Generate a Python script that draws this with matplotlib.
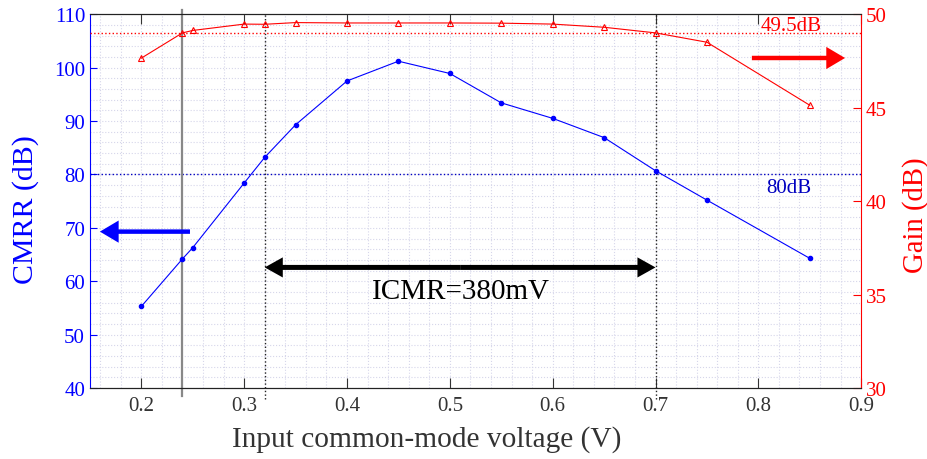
import numpy as np
import matplotlib
matplotlib.use('Agg')
import matplotlib.pyplot as plt
from matplotlib.ticker import MultipleLocator

plt.rcParams['font.family'] = ['Liberation Serif', 'DejaVu Serif']

# data
vin = [0.2, 0.24, 0.25, 0.3, 0.32, 0.35, 0.4, 0.45, 0.5, 0.55, 0.6, 0.65, 0.7, 0.75, 0.85]
cmrr = [55.3, 64.2, 66.3, 78.4, 83.2, 89.3, 97.5, 101.2, 98.9, 93.4, 90.5, 86.9, 80.7, 75.2, 64.3]
gain = [47.65, 49.0, 49.13, 49.47, 49.46, 49.55, 49.53, 49.53, 49.53, 49.52, 49.47, 49.3, 49.0, 48.5, 45.13]
cmrr_ref = 80
gain_ref = 49.0
marks = [0.24, 0.32, 0.7]

blue = '#0000ff'
red = '#ff0000'

fig = plt.figure(figsize=(9.27, 4.6), dpi=100)
ax = fig.add_axes([0.097, 0.154, 0.832, 0.813])
ax2 = ax.twinx()

ax.set_xlim(0.15, 0.9)
ax.set_ylim(40, 110)
ax2.set_ylim(30, 50)

# grid
ax.xaxis.set_major_locator(MultipleLocator(0.1))
ax.xaxis.set_minor_locator(MultipleLocator(0.02))
ax.yaxis.set_major_locator(MultipleLocator(10))
ax.yaxis.set_minor_locator(MultipleLocator(2))
ax2.yaxis.set_major_locator(MultipleLocator(5))
ax.grid(True, which='both', color='#d6d6ea', linestyle=':', linewidth=0.8)
ax.set_axisbelow(True)

# reference lines
ax.axhline(cmrr_ref, color='#0000c0', linestyle=':', linewidth=1.0)
ax2.axhline(gain_ref, color=red, linestyle=':', linewidth=1.0)
ax.axvline(marks[0], ymin=-0.02, ymax=1.01, color='#888888', linewidth=1.6, clip_on=False)
for xv in marks[1:]:
    ax.axvline(xv, ymin=-0.03, ymax=1.0, color='#222222', linestyle=':',
               linewidth=1.0, clip_on=False)

# curves
ax.plot(vin, cmrr, color=blue, linewidth=0.8, marker='o', markersize=3)
ax2.plot(vin, gain, color=red, linewidth=0.8, marker='^', markersize=5,
         markerfacecolor='none', markeredgewidth=0.8)

# arrows
ax.annotate('', xy=(0.157, 69.3), xytext=(0.25, 69.3),
            arrowprops=dict(arrowstyle='simple,head_length=1.35,head_width=1.6,tail_width=0.32',
                            mutation_scale=10, color=blue, lw=0))
ax.annotate('', xy=(0.887, 101.8), xytext=(0.791, 101.8),
            arrowprops=dict(arrowstyle='simple,head_length=1.35,head_width=1.6,tail_width=0.32',
                            mutation_scale=10, color=red, lw=0))
mid = (marks[1] + marks[2]) / 2
for end in (marks[1], marks[2]):
    ax.annotate('', xy=(end, 62.6), xytext=(mid, 62.6),
                arrowprops=dict(arrowstyle='simple,head_length=1.3,head_width=1.45,tail_width=0.36',
                                mutation_scale=10, color='black', lw=0,
                                shrinkA=0, shrinkB=0))

ax.text(0.511, 56.8, 'ICMR=380mV', fontsize=21, ha='center', va='baseline', color='black')
ax.text(0.83, 76.8, '80dB', fontsize=15, ha='center', va='baseline', color='#0000c0')
ax.text(0.8315, 107.0, '49.5dB', fontsize=15, ha='center', va='baseline', color=red)

# axes styling
ax.tick_params(axis='x', which='major', direction='in', length=7, top=True,
               labelsize=15, colors='#333333', pad=6)
ax.tick_params(axis='x', which='minor', length=0, top=False)
ax.tick_params(axis='y', which='major', direction='in', length=5, labelsize=15,
               colors=blue, right=False)
ax.tick_params(axis='y', which='minor', length=0)
ax2.tick_params(axis='y', which='major', direction='in', length=6, labelsize=15, colors=red)
ax2.tick_params(axis='y', which='minor', length=0)

ax.spines['left'].set_color(blue)
ax.spines['right'].set_visible(False)
ax2.spines['left'].set_visible(False)
ax2.spines['right'].set_color(red)
for a in (ax, ax2):
    a.spines['top'].set_color('#222222')
    a.spines['bottom'].set_color('#222222')

ax.set_xticks([0.2, 0.3, 0.4, 0.5, 0.6, 0.7, 0.8, 0.9])
ax.set_xticklabels(['0.2', '0.3', '0.4', '0.5', '0.6', '0.7', '0.8', '0.9'])
ax.set_xlabel('Input common-mode voltage (V)', fontsize=21.2, color='#333333')
ax.set_ylabel('CMRR (dB)', fontsize=21.5, color=blue)
ax2.set_ylabel('Gain (dB)', fontsize=20.7, color=red)
ax.xaxis.set_label_coords(0.437, -0.136)
ax.yaxis.set_label_coords(-0.084, 0.481)
ax2.yaxis.set_label_coords(1.070, 0.465)
for lab in (ax.xaxis.label, ax.yaxis.label, ax2.yaxis.label):
    lab.set_verticalalignment('center')

fig.savefig('out.png', dpi=100)
